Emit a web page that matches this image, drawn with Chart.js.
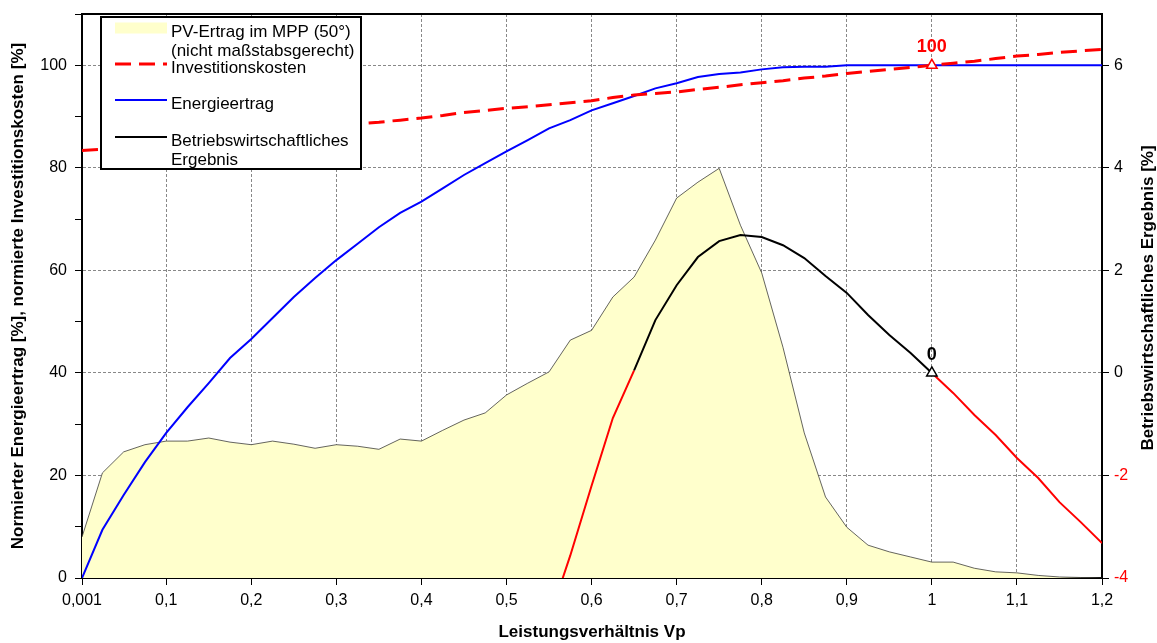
<!DOCTYPE html>
<html>
<head>
<meta charset="utf-8">
<script src="https://cdn.jsdelivr.net/npm/chart.js@4/dist/chart.umd.min.js"></script>
<style>
  body { margin: 0; background: #fff; }
</style>
</head>
<body>
<canvas id="myChart" width="1157" height="643"></canvas>
<script>
const ctx = document.getElementById('myChart');

// Leistungsverhältnis Vp
const vp = [0.001, 0.025, 0.05, 0.075, 0.1, 0.125, 0.15, 0.175, 0.2, 0.225,
  0.25, 0.275, 0.3, 0.325, 0.35, 0.375, 0.4, 0.425, 0.45, 0.475,
  0.5, 0.525, 0.55, 0.575, 0.6, 0.625, 0.65, 0.675, 0.7, 0.725,
  0.75, 0.775, 0.8, 0.825, 0.85, 0.875, 0.9, 0.925, 0.95, 0.975,
  1.0, 1.025, 1.05, 1.075, 1.1, 1.125, 1.15, 1.175, 1.2];

const xTicks = [0.001, 0.1, 0.2, 0.3, 0.4, 0.5, 0.6, 0.7, 0.8, 0.9, 1, 1.1, 1.2];

// PV-Ertrag im MPP (nicht maßstabsgerecht)
const pvErtrag = [8, 20.5, 24.6, 26, 26.7, 26.7, 27.3, 26.5, 26, 26.7,
  26.1, 25.3, 26, 25.7, 25.1, 27.1, 26.7, 28.8, 30.8, 32.2,
  35.7, 38, 40.2, 46.4, 48.3, 54.8, 58.7, 65.9, 74.1, 77.2,
  79.9, 68.8, 59.5, 45, 28.3, 15.8, 9.9, 6.4, 5.1, 4.1,
  3.1, 3.1, 1.9, 1.2, 1.0, 0.5, 0.2, 0.1, 0];

const investition = [83.4, 83.6, 84.1, 84.6, 85.1, 85.5, 86.0, 86.4, 86.8, 87.2,
  87.6, 88.0, 88.3, 88.6, 88.9, 89.3, 89.7, 90.2, 90.8, 91.2,
  91.6, 91.9, 92.3, 92.7, 93.1, 93.7, 94.2, 94.5, 94.8, 95.3,
  95.7, 96.2, 96.6, 97.0, 97.5, 97.9, 98.4, 98.8, 99.2, 99.6,
  100, 100.4, 100.8, 101.3, 101.8, 102.1, 102.5, 102.8, 103.1];

const energie = [0, 9.4, 16.2, 22.6, 28.3, 33.3, 38, 42.9, 46.6, 50.7,
  54.8, 58.5, 62, 65.2, 68.4, 71.2, 73.4, 76, 78.6, 80.9,
  83.2, 85.4, 87.7, 89.3, 91.2, 92.6, 94, 95.5, 96.5, 97.7,
  98.3, 98.6, 99.2, 99.6, 99.7, 99.7, 100, 100, 100, 100,
  100, 100, 100, 100, 100, 100, 100, 100, 100];

// rechte Achse
const ergebnis = [null, null, null, null, null, null, null, null, null, null,
  null, null, null, null, null, null, null, null, null, null,
  null, null, -4.8, -3.56, -2.2, -0.88, 0.05, 1.03, 1.71, 2.26,
  2.57, 2.69, 2.65, 2.49, 2.24, 1.89, 1.56, 1.13, 0.74, 0.39,
  0, -0.39, -0.82, -1.21, -1.66, -2.05, -2.52, -2.91, -3.32];

const labels = ['PV-Ertrag im MPP (50°)\n(nicht maßstabsgerecht)', 'Investitionskosten',
  'Energieertrag', 'Betriebswirtschaftliches\nErgebnis'];

const pts = arr => vp.map((x, i) => ({x: x, y: arr[i]})).filter(p => p.y !== null);
const fnt = 'Liberation Sans, Arial, sans-serif';

const extras = {
  id: 'extras',
  afterDatasetsDraw(chart) {
    const c = chart.ctx;
    const a = chart.chartArea;
    c.save();
    // Rahmen oben
    c.strokeStyle = '#000';
    c.lineWidth = 2;
    c.beginPath();
    c.moveTo(a.left, a.top);
    c.lineTo(a.right, a.top);
    c.stroke();

    // Markierungen
    c.font = 'bold 18px ' + fnt;
    c.textAlign = 'center';
    c.textBaseline = 'middle';
    const inv = chart.getDatasetMeta(1).data.find(e => e.$context && e.$context.raw.x === 1);
    const erg = chart.getDatasetMeta(3).data.find(e => e.$context && e.$context.raw.x === 1);
    if (inv) { c.fillStyle = '#ff0000'; c.fillText('100', inv.x, inv.y - 18); }
    if (erg) { c.fillStyle = '#000'; c.fillText('0', erg.x, erg.y - 18); }

    // Legende
    const lx = 101, ly = 17, lw = 260, lh = 152;
    c.fillStyle = '#fff';
    c.fillRect(lx, ly, lw, lh);
    c.lineWidth = 2;
    c.strokeStyle = '#000';
    c.strokeRect(lx, ly, lw, lh);
    const rows = [28, 64, 100, 137];
    const styles = [
      {color: '#ffffcc', width: 11, dash: []},
      {color: '#ff0000', width: 3, dash: [16, 8]},
      {color: '#0000ff', width: 2, dash: []},
      {color: '#000', width: 2, dash: []}
    ];
    c.font = '17px ' + fnt;
    c.textAlign = 'left';
    labels.forEach((t, i) => {
      const s = styles[i];
      c.save();
      c.strokeStyle = s.color;
      c.lineWidth = s.width;
      c.setLineDash(s.dash);
      c.beginPath();
      c.moveTo(115, rows[i]);
      c.lineTo(167, rows[i]);
      c.stroke();
      c.restore();
      c.fillStyle = '#000';
      t.split('\n').forEach((line, j) => {
        c.fillText(line, 171, rows[i] + 4 + j * 19);
      });
    });
    c.restore();
  },
  afterDraw(chart) {
    const c = chart.ctx;
    c.save();
    c.translate(1148, 298);
    c.rotate(-Math.PI / 2);
    c.font = 'bold 17px ' + fnt;
    c.fillStyle = '#000';
    c.textAlign = 'center';
    c.textBaseline = 'middle';
    c.fillText('Betriebswirtschaftliches Ergebnis [%]', 0, 0);
    c.restore();
  }
};

const noPad = s => { s.paddingTop = 0; s.paddingBottom = 0; };

new Chart(ctx, {
  type: 'line',
  data: {
    datasets: [{
      label: labels[0],
      data: pts(pvErtrag),
      yAxisID: 'y',
      backgroundColor: '#ffffcc',
      borderColor: 'rgba(40,40,40,0.9)',
      borderWidth: 0.8,
      fill: 'start',
      pointRadius: 0,
      order: 10
    }, {
      label: labels[1],
      data: pts(investition),
      yAxisID: 'y',
      borderColor: '#ff0000',
      borderWidth: 3,
      borderDash: [16, 8],
      pointStyle: 'triangle',
      pointRadius: c => (c.raw && c.raw.x === 1) ? 6 : 0,
      pointBackgroundColor: '#fff',
      pointBorderColor: '#ff0000',
      pointBorderWidth: 1.5,
      order: 2
    }, {
      label: labels[2],
      data: pts(energie),
      yAxisID: 'y',
      borderColor: '#0000ff',
      borderWidth: 2,
      pointRadius: 0,
      order: 3
    }, {
      label: labels[3],
      data: pts(ergebnis),
      yAxisID: 'y1',
      borderColor: '#000',
      borderWidth: 2,
      segment: {
        borderColor: s => (s.p0.parsed.y < 0 || s.p1.parsed.y < 0) ? '#ff0000' : '#000'
      },
      pointStyle: 'triangle',
      pointRadius: c => (c.raw && c.raw.x === 1) ? 6 : 0,
      pointBackgroundColor: '#fff',
      pointBorderColor: '#000',
      pointBorderWidth: 1.5,
      order: 1
    }]
  },
  options: {
    responsive: false,
    animation: false,
    layout: { padding: { top: 14 } },
    plugins: { legend: { display: false }, tooltip: { enabled: false } },
    scales: {
      x: {
        type: 'linear',
        min: 0.001,
        max: 1.2,
        afterBuildTicks: s => { s.ticks = xTicks.map(v => ({value: v})); },
        afterFit: s => { s.height = 65; },
        ticks: {
          color: '#000',
          font: { family: fnt, size: 16 },
          padding: 6,
          maxRotation: 0,
          autoSkip: false,
          callback: v => String(v).replace('.', ',')
        },
        grid: { color: '#888', tickColor: '#000', tickLength: 7, lineWidth: 1 },
        border: { color: '#000', width: 2, dash: [3, 2] },
        title: {
          display: true,
          text: 'Leistungsverhältnis Vp',
          color: '#000',
          font: { family: fnt, size: 17, weight: 'bold' },
          padding: { top: 0, bottom: 0 }
        }
      },
      y: {
        position: 'left',
        min: 0,
        max: 110,
        afterFit: s => { s.width = 82; noPad(s); },
        ticks: {
          stepSize: 10,
          includeBounds: false,
          color: '#000',
          padding: 8,
          font: { family: fnt, size: 16 },
          callback: v => v % 20 === 0 ? v : ''
        },
        grid: {
          color: c => (c.tick && c.tick.value % 20 === 0 && c.tick.value > 0) ? '#888' : 'rgba(0,0,0,0)',
          tickColor: '#000',
          tickLength: 7
        },
        border: { color: '#000', width: 2, dash: [3, 2] },
        title: {
          display: true,
          text: 'Normierter Energieertrag [%], normierte Investitionskosten [%]',
          color: '#000',
          font: { family: fnt, size: 17, weight: 'bold' },
          padding: { top: 8, bottom: 0 }
        }
      },
      y1: {
        position: 'right',
        min: -4,
        max: 7,
        afterFit: s => { s.width = 55; noPad(s); },
        ticks: {
          stepSize: 2,
          includeBounds: false,
          padding: 5,
          font: { family: fnt, size: 16 },
          color: c => c.tick && c.tick.value < 0 ? '#ff0000' : '#000'
        },
        grid: { drawOnChartArea: false, tickColor: '#000', tickLength: 7 },
        border: { color: '#000', width: 2 }
      }
    }
  },
  plugins: [extras]
});
</script>
</body>
</html>
